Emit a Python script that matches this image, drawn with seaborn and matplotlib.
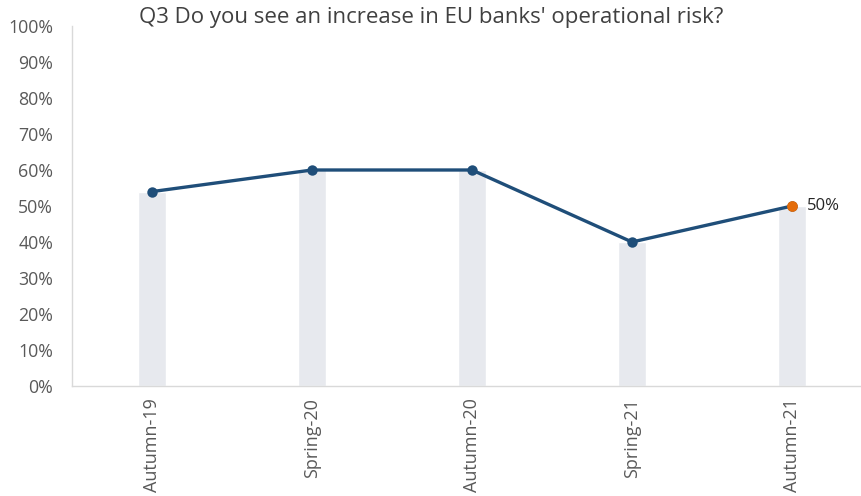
import matplotlib
matplotlib.use("Agg")
import matplotlib.pyplot as plt
import seaborn as sns
import pandas as pd
from matplotlib.ticker import PercentFormatter

# survey waves and share of "yes" answers
waves = ["Autumn-19", "Spring-20", "Autumn-20", "Spring-21", "Autumn-21"]
share_yes = [0.54, 0.60, 0.60, 0.40, 0.50]

df = pd.DataFrame({"wave": waves, "share": share_yes})

sns.set_style("white")
plt.rcParams['font.family'] = ['Open Sans', 'DejaVu Sans']

fig = plt.figure(figsize=(8.62, 4.96), dpi=100)
ax = fig.add_axes([72 / 862, 110 / 496, 790 / 862, 360 / 496])

# light grey columns behind the line
sns.barplot(data=df, x="wave", y="share", color="#e7e9ee", width=0.17,
            saturation=1, ax=ax)

# dark blue line with markers
sns.lineplot(data=df, x="wave", y="share", color="#1f4e79", linewidth=2.4,
             marker="o", markersize=7.5, markeredgewidth=0, ax=ax)

# highlight latest wave
last = df.iloc[[-1]]
sns.scatterplot(data=last, x="wave", y="share", color="#e46c0a", s=60,
                linewidth=0, zorder=5, ax=ax)
ax.annotate(f"{share_yes[-1]:.0%}", (len(waves) - 1, share_yes[-1]),
            xytext=(11, 0), textcoords="offset points", va="center",
            ha="left", fontsize=12, color="#262626")

ax.set_ylim(0, 1)
ax.set_xlim(-0.5, -0.5 + 790 / 160)
ax.set_yticks([i / 10 for i in range(11)])
ax.yaxis.set_major_formatter(PercentFormatter(1, decimals=0))
ax.tick_params(axis="y", labelsize=12.8, labelcolor="#595959", length=0, pad=13.5)
ax.tick_params(axis="x", labelsize=13, labelcolor="#595959", length=0,
               labelrotation=90, pad=9)
ax.set_xlabel("")
ax.set_ylabel("")

for side in ["top", "right"]:
    ax.spines[side].set_visible(False)
for side in ["left", "bottom"]:
    ax.spines[side].set_color("#d9d9d9")
    ax.spines[side].set_linewidth(1)

fig.text(0.5, 1 - 17 / 496, "Q3 Do you see an increase in EU banks' operational risk?",
         ha="center", va="center", fontsize=16, color="#404040")

fig.savefig("out.png", dpi=100)
